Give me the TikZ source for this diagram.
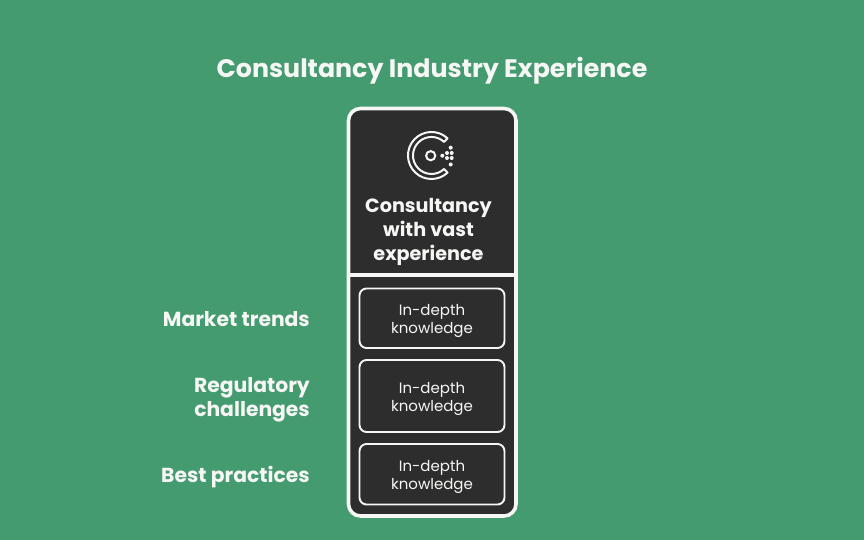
\documentclass[tikz,border=0pt]{standalone}
\usepackage{fontspec}
\setmainfont{Poppins}
\definecolor{meadowgreen}{RGB}{69, 155, 112}
\definecolor{panelgray}{RGB}{45, 45, 45}
\definecolor{chalkwhite}{RGB}{246, 246, 244}
\tikzset{
  headlabel/.style={text=chalkwhite, inner sep=0pt, font=\bfseries\fontsize{19.2}{24}\selectfont, align=center},
  sidelabel/.style={text=chalkwhite, inner sep=0pt, font=\bfseries\fontsize{20.3}{24}\selectfont, align=right, anchor=east},
  itembox/.style={draw=chalkwhite, line width=1.9pt, rounded corners=7pt, fill=panelgray},
  itemlabel/.style={text=chalkwhite, inner sep=0pt, font=\fontsize{15}{18}\selectfont, align=center}
}
\begin{document}
\begin{tikzpicture}[x=1pt, y=-1pt]
  % Background
  \fill[meadowgreen] (0,0) rectangle (864,540);
  \useasboundingbox (0,0) rectangle (864,540);

  % Title
  \node[text=chalkwhite, font=\bfseries\fontsize{25.3}{28}\selectfont] (title) at (432,70.5) {Consultancy Industry Experience};

  % Main panel
  \draw[draw=chalkwhite, line width=3.6pt, rounded corners=12pt, fill=panelgray] (348.5,108.5) rectangle (516,516);
  \draw[chalkwhite, line width=3.2pt] (348.5,275) -- (516,275);

  % Icon
  \draw[chalkwhite, line width=2pt, line join=round]
    (447.5,138.3) arc (313:47:23.5) -- (444.1,169) arc (47:313:18.5) -- cycle;
  \draw[chalkwhite, line width=2pt] (430.7,155.7) circle (4.6);
  \fill[chalkwhite] (442.3,155.7) circle (2);
  \foreach \px/\py in {450.7/147.7, 447/153, 451.7/153, 447/158, 451.7/158, 450.7/164.5}
    \fill[chalkwhite] (\px,\py) circle (2);

  % Panel heading
  \node[headlabel] (head) at (428.5,231.5) {Consultancy\\with vast\\experience};

  % Item boxes
  \draw[itembox] (359.5,288.5) rectangle (504.5,348);
  \draw[itembox] (359.5,360) rectangle (504.5,432);
  \draw[itembox] (359.5,444) rectangle (504.5,504.5);

  \node[itemlabel] (itemone) at (432,321) {In-depth\\knowledge};
  \node[itemlabel] (itemtwo) at (432,399) {In-depth\\knowledge};
  \node[itemlabel] (itemthree) at (432,477) {In-depth\\knowledge};

  % Side labels
  \node[sidelabel] (market) at (310,319.5) {Market trends};
  \node[sidelabel] (regulatory) at (310,399.5) {Regulatory\\challenges};
  \node[sidelabel] (practices) at (310,477) {Best practices};
\end{tikzpicture}
\end{document}
